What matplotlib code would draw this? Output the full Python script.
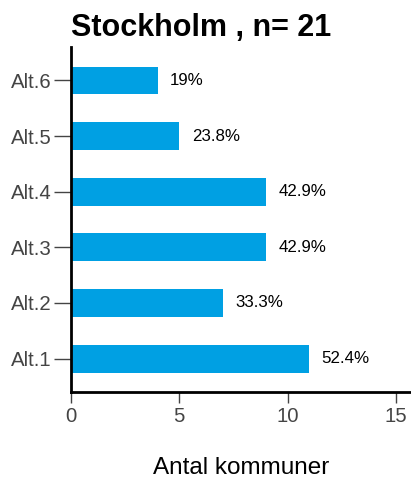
import matplotlib.pyplot as plt

categories = ["Alt.1", "Alt.2", "Alt.3", "Alt.4", "Alt.5", "Alt.6"]
counts = [11, 7, 9, 9, 5, 4]
pct_labels = ["52.4%", "33.3%", "42.9%", "42.9%", "23.8%", "19%"]
x_ticks = [0, 5, 10, 15]

plt.rcParams["font.family"] = ["Liberation Sans", "DejaVu Sans"]

fig = plt.figure(figsize=(4.11, 4.8), dpi=100)
ax = fig.add_axes([0.1727, 0.1833, 0.83, 0.7187])

pos = list(range(len(categories)))
bars = ax.barh(pos, counts, height=0.5, color="#00A0E3")

for rect, lab in zip(bars, pct_labels):
    ax.annotate(lab,
                xy=(rect.get_width(), rect.get_y() + rect.get_height() / 2),
                xytext=(9, 0), textcoords="offset points",
                ha="left", va="center", fontsize=12.2, color="black")

ax.set_xlim(0, 15.75)
ax.set_ylim(-0.6, 5.6)
ax.set_yticks(pos)
ax.set_yticklabels(categories)
ax.set_xticks(x_ticks)

for side in ("top", "right"):
    ax.spines[side].set_visible(False)
for side in ("left", "bottom"):
    ax.spines[side].set_linewidth(2)
    ax.spines[side].set_color("black")

ax.tick_params(axis="y", length=12, width=1, color="#444444",
               labelsize=14.7, labelcolor="#444444", pad=2)
ax.tick_params(axis="x", length=8, width=1, color="#444444",
               labelsize=14.7, labelcolor="#444444", pad=3)

ax.set_xlabel("Antal kommuner", fontsize=17.5, labelpad=22)
fig.text(0.49, 0.942, "Stockholm , n= 21", ha="center", va="center",
         fontsize=22, fontweight="bold")

fig.savefig("out.png", dpi=100)
